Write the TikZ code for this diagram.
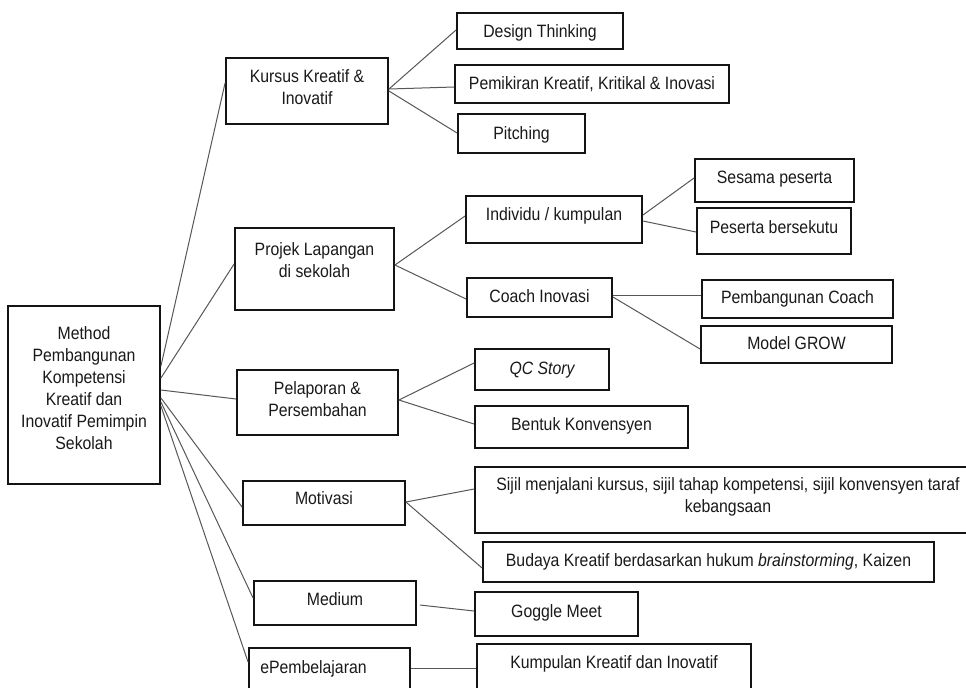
\documentclass[tikz,border=0pt]{standalone}
\usepackage{fontspec}
\setmainfont{Liberation Sans}[FakeStretch=0.885]
\usetikzlibrary{fit,calc}

\begin{document}
\begin{tikzpicture}[x=0.75pt,y=-0.75pt,
  box/.style={draw=black!92, line width=1.4pt, inner sep=0pt, fit={#1}},
  lbl/.style={font=\fontsize{13.4}{16.6}\selectfont, inner sep=0pt,
              text height=9.6pt, text depth=0pt, text=black!90},
  mlbl/.style={font=\fontsize{13.4}{16.6}\selectfont, inner sep=0pt,
               align=center, text=black!90},
  conn/.style={draw=black!66, line width=0.75pt}]

\useasboundingbox[fill=white] (0,0) rectangle (966,687);

% ---- root ----
\node[box={(8,306) (160,484)}] (method) {};
\node[mlbl] (method-t) at (84,388)
  {Method\\Pembangunan\\Kompetensi\\Kreatif dan\\Inovatif Pemimpin\\Sekolah};

% ---- first level ----
\node[box={(226,58) (388,124)}] (kursus) {};
\node[mlbl] (kursus-t) at (307,87) {Kursus Kreatif \&\\Inovatif};

\node[box={(235,228) (394,310)}] (projek) {};
\node[mlbl] (projek-t) at (314.5,260.5) {Projek Lapangan\\di sekolah};

\node[box={(237,370) (398,435)}] (pelaporan) {};
\node[mlbl] (pelaporan-t) at (317.5,399) {Pelaporan \&\\Persembahan};

\node[box={(243,481) (405,525)}] (motivasi) {};
\node[lbl] (motivasi-t) at (324,498) {Motivasi};

\node[box={(254,581) (416,625)}] (medium) {};
\node[lbl] (medium-t) at (335,599) {Medium};

\node[box={(249,648) (410,700)}] (epemb) {};
\node[lbl, anchor=west] (epemb-t) at (260,667) {ePembelajaran};

% ---- second level ----
\node[box={(457,13) (623,49)}] (design) {};
\node[lbl] (design-t) at (540,31) {Design Thinking};

\node[box={(455,65) (729,103)}] (pemikiran) {};
\node[lbl] (pemikiran-t) at (592,83) {Pemikiran Kreatif, Kritikal \& Inovasi};

\node[box={(458,114) (585,153)}] (pitching) {};
\node[lbl] (pitching-t) at (521.5,133) {Pitching};

\node[box={(466,196) (642,243)}] (individu) {};
\node[lbl] (individu-t) at (554,214) {Individu / kumpulan};

\node[box={(467,278) (612,317)}] (coach) {};
\node[lbl] (coach-t) at (539.5,296.5) {Coach Inovasi};

\node[box={(475,349) (609,390)}] (qc) {};
\node[lbl] (qc-t) at (542,368) {\itshape QC Story};

\node[box={(475,406) (688,448)}] (bentuk) {};
\node[lbl] (bentuk-t) at (581.5,424) {Bentuk Konvensyen};

\node[box={(475,467) (984,533)}] (sijil) {};
\node[mlbl] (sijil-t) at (728,497)
  {Sijil menjalani kursus, sijil tahap kompetensi, sijil konvensyen taraf\\kebangsaan};

\node[box={(483,542) (934,582)}] (budaya) {};
\node[lbl] (budaya-t) at (708.5,560)
  {Budaya Kreatif berdasarkan hukum \textit{brainstorming}, Kaizen};

\node[box={(475,592) (638,636)}] (goggle) {};
\node[lbl] (goggle-t) at (556.5,611) {Goggle Meet};

\node[box={(477,644) (751,700)}] (kumpulan) {};
\node[lbl] (kumpulan-t) at (614,662) {Kumpulan Kreatif dan Inovatif};

% ---- third level ----
\node[box={(695,159) (854,202)}] (sesama) {};
\node[lbl] (sesama-t) at (774.5,177) {Sesama peserta};

\node[box={(697,208) (851,254)}] (peserta) {};
\node[lbl] (peserta-t) at (774,227) {Peserta bersekutu};

\node[box={(702,280) (893,318)}] (pembcoach) {};
\node[lbl] (pembcoach-t) at (797.5,297.5) {Pembangunan Coach};

\node[box={(701,326) (892,363)}] (grow) {};
\node[lbl] (grow-t) at (796.5,343.5) {Model GROW};

% ---- connectors ----
\draw[conn] (method.east |- 0,366) -- (kursus.west |- 0,83);
\draw[conn] (method.east |- 0,378) -- (projek.west |- 0,264);
\draw[conn] (method.east |- 0,390) -- (pelaporan.west |- 0,399);
\draw[conn] (method.east |- 0,398) -- (motivasi.west |- 0,507);
\draw[conn] (method.east |- 0,402) -- (medium.west |- 0,598);
\draw[conn] (method.east |- 0,406) -- (epemb.west |- 0,662);

\draw[conn] (kursus.east |- 0,89) -- (design.west |- 0,30);
\draw[conn] (kursus.east |- 0,89) -- (pemikiran.west |- 0,87);
\draw[conn] (kursus.east |- 0,91) -- (pitching.west |- 0,133);

\draw[conn] (projek.east |- 0,265) -- (individu.west |- 0,216);
\draw[conn] (projek.east |- 0,265) -- (coach.west |- 0,299);

\draw[conn] (individu.east |- 0,215) -- (sesama.west |- 0,178);
\draw[conn] (individu.east |- 0,221) -- (peserta.west |- 0,232);

\draw[conn] (coach.east |- 0,295) -- (pembcoach.west |- 0,295);
\draw[conn] (coach.east |- 0,297) -- (grow.west |- 0,349);

\draw[conn] (pelaporan.east |- 0,400) -- (qc.west |- 0,363);
\draw[conn] (pelaporan.east |- 0,400) -- (bentuk.west |- 0,424);

\draw[conn] (motivasi.east |- 0,502) -- (sijil.west |- 0,489);
\draw[conn] (motivasi.east |- 0,502) -- (budaya.west |- 0,568);

\draw[conn] ($(medium.east |- 0,605)+(3,0)$) -- (goggle.west |- 0,611);
\draw[conn] (epemb.east |- 0,668) -- (kumpulan.west |- 0,668);

\end{tikzpicture}
\end{document}
